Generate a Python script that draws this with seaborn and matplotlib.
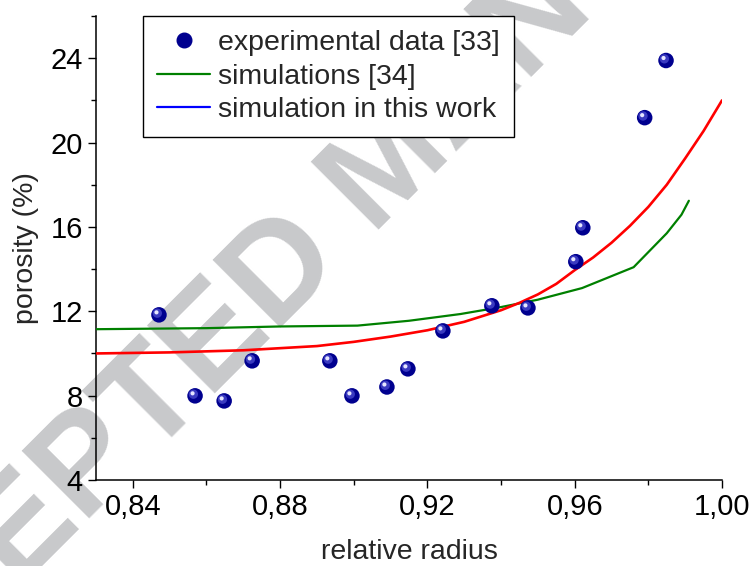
import numpy as np
import pandas as pd
import matplotlib
matplotlib.use("Agg")
import matplotlib.pyplot as plt
import matplotlib.transforms as mtransforms
from matplotlib.lines import Line2D
from matplotlib.ticker import FuncFormatter, MultipleLocator
import seaborn as sns

# Measured porosity along the radius
exp_radius = [0.8471, 0.8569, 0.8648, 0.8724, 0.8935, 0.8995, 0.9090, 0.9147,
              0.9242, 0.9375, 0.9473, 0.9603, 0.9622, 0.9790, 0.9848]
exp_porosity = [11.83, 7.99, 7.75, 9.65, 9.65, 7.99, 8.41, 9.27,
                11.07, 12.26, 12.16, 14.35, 15.96, 21.18, 23.89]

# Earlier simulation results
sim34_radius = [0.830, 0.860, 0.880, 0.901, 0.915, 0.929, 0.940, 0.950,
                0.962, 0.976, 0.985, 0.989, 0.991]
sim34_porosity = [11.15, 11.20, 11.28, 11.32, 11.55, 11.87, 12.20, 12.55,
                  13.10, 14.09, 15.70, 16.58, 17.24]

# Simulation of the present model
sim_radius = [0.830, 0.850, 0.870, 0.890, 0.900, 0.910, 0.920, 0.930, 0.940,
              0.945, 0.950, 0.955, 0.960, 0.965, 0.970, 0.975, 0.980,
              0.985, 0.990, 0.995, 1.000]
sim_porosity = [10.00, 10.05, 10.15, 10.35, 10.55, 10.80, 11.10, 11.50, 12.05,
                12.40, 12.80, 13.30, 13.95, 14.55, 15.25, 16.05, 16.95,
                18.00, 19.25, 20.55, 22.00]

legend_labels = ["experimental data [33]", "simulations [34]",
                 "simulation in this work"]

sns.set_style("ticks")
plt.rcParams["font.family"] = ["Liberation Sans", "DejaVu Sans"]

fig = plt.figure(figsize=(7.51, 5.66), dpi=100)
ax = fig.add_axes([96 / 751, 1 - 480 / 566, (722 - 96) / 751, (480 - 16) / 566])
ax.set_facecolor("none")

# Diagonal watermark behind the plot, anchored at the start of its baseline
fig.text(-0.2594, -0.4187, "ACCEPTED MANUSCRIPT", fontsize=100,
         fontweight="bold", color="#c8c9cb", rotation=45,
         rotation_mode="anchor", ha="left", va="baseline", zorder=-5)

df_exp = pd.DataFrame({"r": exp_radius, "p": exp_porosity})
df_34 = pd.DataFrame({"r": sim34_radius, "p": sim34_porosity})
df_sim = pd.DataFrame({"r": sim_radius, "p": sim_porosity})

sns.lineplot(data=df_34, x="r", y="p", color="#008000", lw=1.6, ax=ax,
             zorder=3, legend=False)
sns.lineplot(data=df_sim, x="r", y="p", color="#ff0000", lw=1.9, ax=ax,
             zorder=4, legend=False)

# Shaded spheres: dark base plus offset highlights
sns.scatterplot(data=df_exp, x="r", y="p", color="#00008f", s=125,
                edgecolor="none", ax=ax, zorder=5, legend=False)
hl1 = mtransforms.offset_copy(ax.transData, fig=fig, x=-1.2, y=1.2, units="points")
hl2 = mtransforms.offset_copy(ax.transData, fig=fig, x=-1.8, y=1.8, units="points")
ax.scatter(exp_radius, exp_porosity, s=45, color="#3a3ac0", edgecolor="none",
           transform=hl1, zorder=6)
ax.scatter(exp_radius, exp_porosity, s=9, color="#e6e6ff", edgecolor="none",
           transform=hl2, zorder=7)

ax.set_xlim(0.83, 1.0)
ax.set_ylim(4, 26)
ax.set_xticks([0.84, 0.88, 0.92, 0.96, 1.00])
ax.xaxis.set_minor_locator(MultipleLocator(0.02))
ax.yaxis.set_major_locator(MultipleLocator(4))
ax.yaxis.set_minor_locator(MultipleLocator(2))
ax.xaxis.set_major_formatter(FuncFormatter(lambda v, _: f"{v:.2f}".replace(".", ",")))
ax.yaxis.set_major_formatter(FuncFormatter(lambda v, _: f"{v:.0f}"))

for side in ("top", "right"):
    ax.spines[side].set_visible(False)
for side in ("left", "bottom"):
    ax.spines[side].set_linewidth(1.1)
    ax.spines[side].set_color("black")
ax.tick_params(which="major", direction="out", length=5.5, width=1.0,
               labelsize=21, color="black", labelcolor="black")
ax.tick_params(which="minor", direction="out", length=3.5, width=1.0,
               color="black")
ax.tick_params(axis="x", which="major", pad=4)
ax.tick_params(axis="y", which="major", pad=4)

ax.set_xlabel("relative radius", fontsize=20.5, labelpad=13)
ax.set_ylabel("porosity (%)", fontsize=20.5, labelpad=8)

handles = [
    Line2D([], [], linestyle="none", marker="o", markersize=10.5,
           markerfacecolor="#00008f", markeredgecolor="#00008f"),
    Line2D([], [], color="#008000", lw=1.6),
    Line2D([], [], color="#0000ff", lw=1.6),
]
leg = fig.legend(handles, legend_labels, loc="upper left",
                 bbox_to_anchor=(143 / 751, 1 - 16 / 566),
                 bbox_transform=fig.transFigure, fontsize=20.5, frameon=True,
                 fancybox=False, edgecolor="black", framealpha=1,
                 borderaxespad=0, borderpad=0.5, labelspacing=0.26,
                 handlelength=1.85, handletextpad=0.3)
leg.get_frame().set_linewidth(1.0)
leg.set_zorder(10)

fig.savefig("out.png", dpi=100)
